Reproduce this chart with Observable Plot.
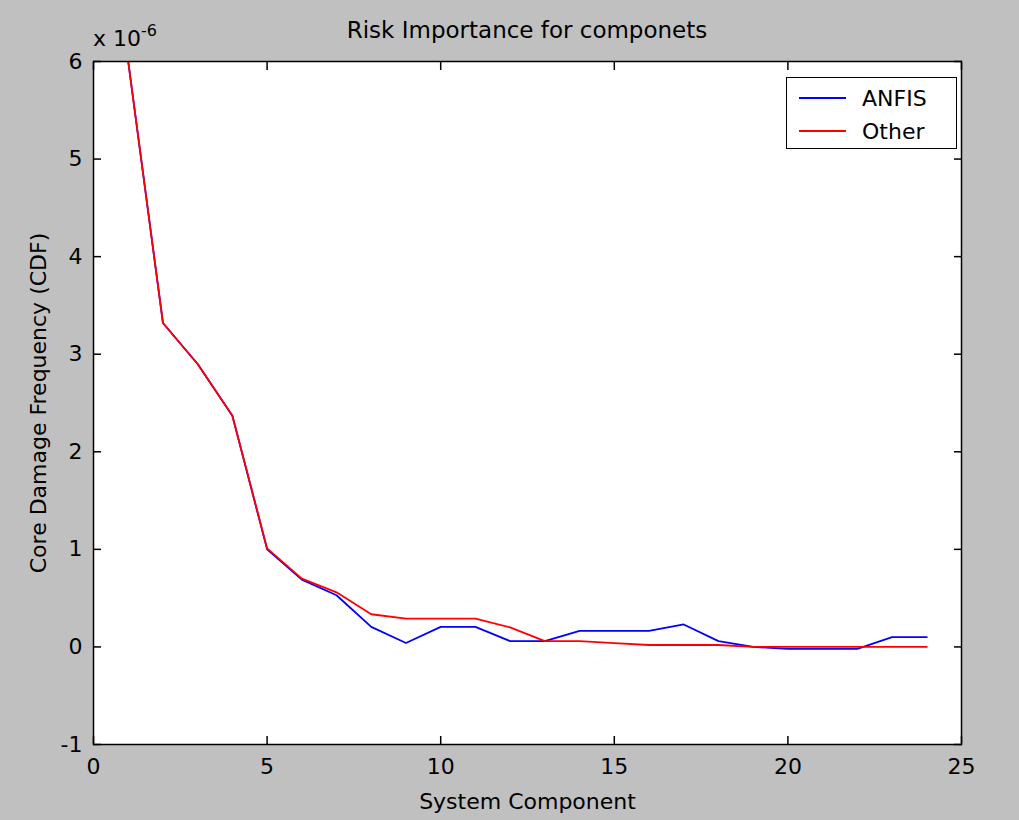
<!DOCTYPE html>
<html>
<head>
<meta charset="utf-8">
<script src="https://cdn.jsdelivr.net/npm/d3@7"></script>
<script src="https://cdn.jsdelivr.net/npm/@observablehq/plot@0.6"></script>
<style>
  html, body { margin: 0; padding: 0; background: #c0c0c0; }
  #wrap { position: relative; width: 1019px; height: 820px; font-family: "DejaVu Sans", sans-serif; color: #000; }
  #header { position: relative; height: 48px; }
  #title { position: absolute; left: 0; width: 1054px; top: 18px; text-align: center; font-size: 23px; line-height: 24px; }
  #expo { position: absolute; left: 93px; top: 27px; font-size: 22px; line-height: 24px; white-space: nowrap; }
  #expo sup { font-size: 16px; position: relative; top: -4px; vertical-align: top; line-height: 16px; }
  #legend { position: absolute; left: 786px; top: 77px; width: 171px; height: 72px; background: #fff; border: 1.5px solid #000; box-sizing: border-box; font-size: 22px; }
  .entry { position: absolute; left: 12px; height: 24px; display: flex; align-items: center; }
  .entry svg { margin-right: 16px; }
</style>
</head>
<body>
<div id="wrap">
  <div id="header">
    <div id="title">Risk Importance for componets</div>
    <div id="expo">x 10<sup>-6</sup></div>
  </div>
  <div id="chart"></div>
  <div id="legend"></div>
</div>
<script>
// System component index (x axis)
const components = [1, 2, 3, 4, 5, 6, 7, 8, 9, 10, 11, 12, 13, 14, 15, 16, 17, 18, 19, 20, 21, 22, 23, 24];
// Core damage frequency, in units of 1e-6
const anfis = [6.0, 3.32, 2.9, 2.37, 1.0, 0.69, 0.53, 0.205, 0.04, 0.205, 0.205, 0.06, 0.06, 0.165, 0.165, 0.165, 0.23, 0.06, 0.0, -0.02, -0.02, -0.02, 0.1, 0.1];
const other = [6.0, 3.32, 2.9, 2.37, 1.01, 0.7, 0.56, 0.335, 0.29, 0.29, 0.29, 0.2, 0.06, 0.06, 0.04, 0.02, 0.02, 0.02, 0.0, 0.0, 0.0, 0.0, 0.0, 0.0];
const seriesNames = ["ANFIS", "Other"];
const seriesColors = ["#0000ff", "#ff0000"];
const xTicks = [0, 5, 10, 15, 20, 25];
const yTicks = [-1, 0, 1, 2, 3, 4, 5, 6];

const rows = [];
[anfis, other].forEach((vals, s) => {
  vals.forEach((v, i) => rows.push({series: seriesNames[s], x: components[i], y: v}));
});

const plain = d => String(d);

const chart = Plot.plot({
  width: 1019,
  height: 772,
  marginLeft: 93,
  marginRight: 58,
  marginTop: 13,
  marginBottom: 76,
  style: {background: "transparent", fontFamily: "DejaVu Sans, sans-serif", fontSize: "22px", color: "#000"},
  x: {domain: [0, 25]},
  y: {domain: [-1, 6]},
  color: {domain: seriesNames, range: seriesColors},
  marks: [
    Plot.frame({fill: "#ffffff", stroke: null}),
    Plot.line(rows, {x: "x", y: "y", z: "series", stroke: "series", strokeWidth: 1.8, clip: true}),
    Plot.frame({stroke: "#000", strokeWidth: 1.5}),
    Plot.axisX({anchor: "bottom", ticks: xTicks, tickSize: -8, tickPadding: 22, strokeWidth: 1.5, tickFormat: plain,
      label: "System Component", labelAnchor: "center", labelArrow: "none", labelOffset: 64, fontSize: 22}),
    Plot.axisX({anchor: "top", ticks: xTicks, tickSize: -8, tickFormat: () => "", strokeWidth: 1.5, label: null}),
    Plot.axisY({anchor: "left", ticks: yTicks, tickSize: -8, tickPadding: 19, strokeWidth: 1.5, tickFormat: plain,
      label: "Core Damage Frequency (CDF)", labelAnchor: "center", labelArrow: "none", labelOffset: 63}),
    Plot.axisY({anchor: "right", ticks: yTicks, tickSize: -8, tickFormat: () => "", strokeWidth: 1.5, label: null})
  ]
});
document.getElementById("chart").appendChild(chart);

// Legend box inside the plot area
const legend = document.getElementById("legend");
seriesNames.forEach((name, i) => {
  const e = document.createElement("div");
  e.className = "entry";
  e.style.top = (8 + i * 33) + "px";
  e.innerHTML = `<svg width="47" height="4"><line x1="0" x2="47" y1="2" y2="2" stroke="${seriesColors[i]}" stroke-width="2"/></svg><span>${name}</span>`;
  legend.appendChild(e);
});
</script>
</body>
</html>
